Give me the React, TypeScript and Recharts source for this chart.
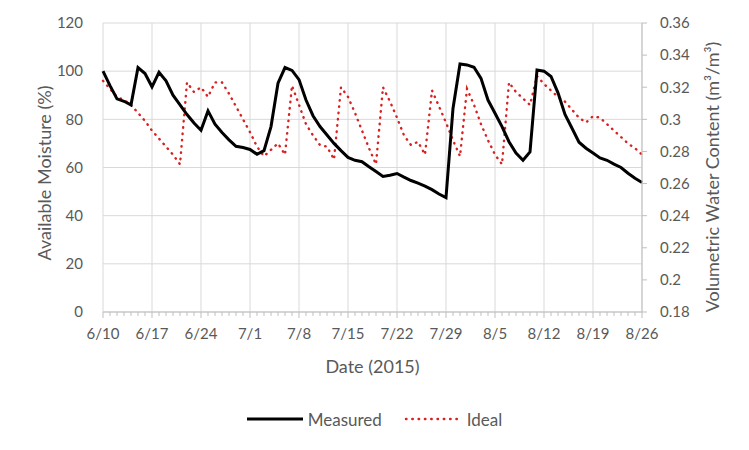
import { LineChart, Line, XAxis, YAxis, CartesianGrid, Legend } from 'recharts';

const FONT = 'Lato, "Noto Sans", sans-serif';
const TEXT = '#595959';

// x-axis tick labels, one per week starting 6/10
const tickLabels = ['6/10', '6/17', '6/24', '7/1', '7/8', '7/15', '7/22', '7/29', '8/5', '8/12', '8/19', '8/26'];

// available moisture (%), one reading per day from 6/10 to 8/26
const measured = [
  100, 94, 88.5, 87.5, 86, 101.5, 99, 93.5, 99.5, 96,
  90, 86, 82, 78.5, 75.5, 83.5, 78, 74.5, 71.5, 68.8,
  68.3, 67.5, 65.5, 67, 77, 95, 101.5, 100.3, 96.5, 88,
  81.5, 77, 73.5, 70, 67, 64.2, 63, 62.4, 60.3, 58.3,
  56.3, 56.8, 57.5, 56, 54.6, 53.5, 52.3, 50.8, 49, 47.5,
  84.5, 103, 102.6, 101.6, 97, 88, 82.5, 77, 70.7, 66,
  63, 66.5, 100.5, 100, 97.8, 91, 82, 76.3, 70.5, 68,
  66, 64, 63, 61.4, 60, 57.6, 55.5, 53.8,
];

// ideal volumetric water content (m3/m3), same days, right axis
const ideal = [
  0.324, 0.319, 0.314, 0.312, 0.309, 0.304, 0.299, 0.293, 0.288, 0.283,
  0.278, 0.272, 0.323, 0.317, 0.320, 0.314, 0.323, 0.323, 0.316, 0.308,
  0.300, 0.292, 0.283, 0.277, 0.281, 0.285, 0.278, 0.321, 0.309, 0.297,
  0.290, 0.284, 0.283, 0.275, 0.320, 0.314, 0.304, 0.293, 0.282, 0.272,
  0.320, 0.311, 0.301, 0.290, 0.284, 0.286, 0.278, 0.318, 0.308, 0.298,
  0.287, 0.277, 0.319, 0.309, 0.297, 0.287, 0.278, 0.272, 0.323, 0.317,
  0.313, 0.309, 0.327, 0.322, 0.318, 0.314, 0.311, 0.306, 0.301, 0.298,
  0.302, 0.301, 0.297, 0.293, 0.289, 0.285, 0.282, 0.278,
];

const leftTicks = [0, 20, 40, 60, 80, 100, 120];
const rightTicks = [0.18, 0.2, 0.22, 0.24, 0.26, 0.28, 0.3, 0.32, 0.34, 0.36];

const data = measured.map((m, i) => ({ day: i, measured: m, ideal: ideal[i] }));
const dayTicks = data.map(d => d.day);
const weekDays = tickLabels.map((_, i) => i * 7);

const DateTick = (props: any) => {
  const { x, y, payload } = props;
  const major = payload.value % 7 === 0;
  return (
    <g>
      <line x1={x} y1={y} x2={x} y2={y + (major ? 6 : 4)} stroke="#bfbfbf" />
      {major && (
        <text x={x} y={y + 21} textAnchor="middle" dominantBaseline="central" fill={TEXT} fontSize={15} fontFamily={FONT}>
          {tickLabels[payload.value / 7]}
        </text>
      )}
    </g>
  );
};

const renderLegend = () => (
  <div style={{ display: 'flex', justifyContent: 'center', alignItems: 'center', height: 24, fontFamily: FONT, fontSize: 17, color: TEXT }}>
    <svg width={56} height={10}>
      <line x1={0} y1={5} x2={56} y2={5} stroke="#000" strokeWidth={3} />
    </svg>
    <span style={{ marginLeft: 5, marginRight: 22 }}>Measured</span>
    <svg width={54} height={10}>
      <line x1={2} y1={5} x2={54} y2={5} stroke="#d92121" strokeWidth={2.4} strokeDasharray="0.5 5.8" strokeLinecap="round" />
    </svg>
    <span style={{ marginLeft: 9 }}>Ideal</span>
  </div>
);

export default function App() {
  return (
    <div style={{ position: 'absolute', left: 0, top: 0, background: '#fff', fontFamily: FONT }}>
      <LineChart width={749} height={450} data={data} margin={{ top: 23, right: 0, left: 0, bottom: 19 }}>
        <CartesianGrid stroke="#d9d9d9" yAxisId="left" verticalValues={weekDays} horizontalValues={leftTicks} />
        <XAxis
          dataKey="day"
          type="number"
          domain={[0, 77]}
          ticks={dayTicks}
          interval={0}
          tick={<DateTick />}
          tickLine={false}
          tickSize={0}
          tickMargin={0}
          axisLine={{ stroke: '#bfbfbf' }}
          height={95}
          label={{
            content: (p: any) => {
              const vb = p.viewBox;
              return (
                <text x={vb.x + vb.width / 2} y={366} textAnchor="middle" dominantBaseline="central" fill={TEXT} fontSize={18} fontFamily={FONT}>
                  Date (2015)
                </text>
              );
            },
          }}
        />
        <YAxis
          yAxisId="left"
          domain={[0, 120]}
          ticks={leftTicks}
          axisLine={false}
          tickLine={false}
          tickMargin={14}
          width={103}
          tick={{ fill: TEXT, fontSize: 15, fontFamily: FONT }}
          label={{
            content: () => (
              <text x={44} y={173} transform="rotate(-90 44 173)" textAnchor="middle" dominantBaseline="central" fill={TEXT} fontSize={18} fontFamily={FONT}>
                Available Moisture (%)
              </text>
            ),
          }}
        />
        <YAxis
          yAxisId="right"
          orientation="right"
          domain={[0.18, 0.36]}
          ticks={rightTicks}
          axisLine={{ stroke: '#bfbfbf' }}
          tickLine={{ stroke: '#bfbfbf' }}
          tickSize={5}
          tickMargin={13}
          width={107}
          tick={{ fill: TEXT, fontSize: 15, fontFamily: FONT }}
          label={{
            content: () => (
              <text x={712} y={177} transform="rotate(-90 712 177)" textAnchor="middle" dominantBaseline="central" fill={TEXT} fontSize={18} fontFamily={FONT}>
                Volumetric Water Content (m³/m³)
              </text>
            ),
          }}
        />
        <Legend verticalAlign="bottom" height={24} content={renderLegend} />
        <Line
          yAxisId="right"
          dataKey="ideal"
          name="Ideal"
          stroke="#d92121"
          strokeWidth={2.4}
          strokeDasharray="0.5 5.8"
          strokeLinecap="round"
          dot={false}
          isAnimationActive={false}
        />
        <Line
          yAxisId="left"
          dataKey="measured"
          name="Measured"
          stroke="#000"
          strokeWidth={3}
          dot={false}
          isAnimationActive={false}
        />
      </LineChart>
    </div>
  );
}
